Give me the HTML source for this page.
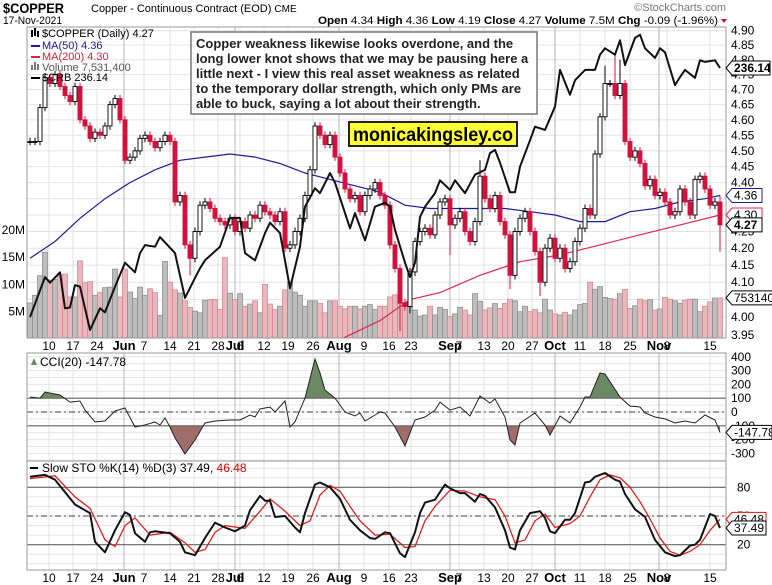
<!DOCTYPE html>
<html><head><meta charset="utf-8"><style>
html,body{margin:0;padding:0;background:#fff;}
svg{display:block;font-family:"Liberation Sans",Arial,sans-serif;}
</style></head><body>
<svg id="chart" width="772" height="585" viewBox="0 0 772 585" xmlns="http://www.w3.org/2000/svg">
<defs>
<clipPath id="mainClip"><rect x="27" y="27" width="699" height="311"/></clipPath>
<clipPath id="cciClip"><rect x="27" y="353" width="699" height="108"/></clipPath>
<clipPath id="stoClip"><rect x="27" y="461" width="699" height="109"/></clipPath>
</defs>
<text x="3" y="13" font-size="14" font-weight="bold" textLength="61" lengthAdjust="spacingAndGlyphs">$COPPER</text>
<text x="91" y="12" font-size="11">Copper - Continuous Contract (EOD) <tspan font-size="10">CME</tspan></text>
<text x="3" y="24" font-size="11" textLength="59" lengthAdjust="spacingAndGlyphs">17-Nov-2021</text>
<text x="726" y="11" font-size="11" fill="#777" text-anchor="end">©StockCharts.com</text>
<text x="318" y="24" font-size="11" textLength="400" lengthAdjust="spacingAndGlyphs"><tspan font-weight="bold">Open</tspan> 4.34 <tspan font-weight="bold">High</tspan> 4.36 <tspan font-weight="bold">Low</tspan> 4.19 <tspan font-weight="bold">Close</tspan> 4.27 <tspan font-weight="bold">Volume</tspan> 7.5M <tspan font-weight="bold">Chg</tspan> -0.09 (-1.96%)</text>
<polygon points="721,19 727,19 724,23" fill="#c0103a"/>
<g id="grid"></g>
<g id="main" clip-path="url(#mainClip)"></g>
<g id="cci" clip-path="url(#cciClip)"></g>
<g id="sto" clip-path="url(#stoClip)"></g>
<g id="frames"></g>
<g id="axes"></g>
<g id="legend" font-size="11">
  <text x="42" y="37">$COPPER (Daily) 4.27</text>
  <rect x="31" y="30" width="2" height="7" fill="#000"/><rect x="34" y="28" width="2" height="8" fill="#000"/><rect x="37" y="31" width="2" height="6" fill="#000"/>
  <rect x="31" y="45" width="9" height="2" fill="#1a1a9a"/><text x="42" y="49" fill="#1a1a9a">MA(50) 4.36</text>
  <rect x="31" y="56" width="9" height="2" fill="#d8203f"/><text x="42" y="60" fill="#d8203f">MA(200) 4.30</text>
  <rect x="31" y="65" width="2" height="5" fill="#777"/><rect x="34" y="62" width="2" height="8" fill="#777"/><rect x="37" y="64" width="2" height="6" fill="#777"/><text x="42" y="71" fill="#555">Volume 7,531,400</text>
  <rect x="31" y="77" width="9" height="2" fill="#000"/><text x="42" y="81">$CRB 236.14</text>
</g>
<g>
  <rect x="191" y="32" width="346" height="82" fill="#fff" stroke="#777" stroke-width="1.5"/>
  <text font-size="13" font-weight="bold" fill="#222">
    <tspan x="196" y="48">Copper weakness likewise looks overdone, and the</tspan>
    <tspan x="196" y="63">long lower knot shows that we may be pausing here a</tspan>
    <tspan x="196" y="78">little next - I view this real asset weakness as related</tspan>
    <tspan x="196" y="93">to the temporary dollar strength, which only PMs are</tspan>
    <tspan x="196" y="108">able to buck, saying a lot about their strength.</tspan>
  </text>
</g>
<g>
  <rect x="349" y="122" width="168" height="24" fill="#ffff33" stroke="#222" stroke-width="2"/>
  <text x="353" y="141" font-size="19" font-weight="bold" textLength="160" lengthAdjust="spacingAndGlyphs">monicakingsley.co</text>
</g>
<g id="cciLegend" font-size="12">
  <polygon points="31,365 34,358 37,365" fill="#6b8a63"/>
  <text x="40" y="366">CCI(20) -147.78</text>
</g>
<g id="stoLegend" font-size="12">
  <rect x="30" y="467" width="8" height="2" fill="#000"/>
  <text x="42" y="472">Slow STO %K(14) %D(3) 37.49, <tspan fill="#e00000">46.48</tspan></text>
</g>
</svg>
<script>
const closes=[4.53,4.53,4.64,4.74,4.72,4.75,4.71,4.68,4.66,4.71,4.60,4.58,4.54,4.56,4.55,4.58,4.65,4.67,4.60,4.47,4.48,4.50,4.54,4.55,4.53,4.51,4.53,4.55,4.53,4.34,4.36,4.21,4.17,4.25,4.33,4.34,4.32,4.29,4.28,4.27,4.29,4.25,4.28,4.26,4.30,4.29,4.33,4.31,4.30,4.28,4.31,4.20,4.21,4.25,4.29,4.36,4.44,4.58,4.55,4.52,4.55,4.48,4.43,4.38,4.35,4.36,4.31,4.36,4.38,4.40,4.36,4.33,4.21,4.14,4.04,4.03,4.13,4.22,4.25,4.26,4.24,4.30,4.34,4.35,4.27,4.29,4.31,4.25,4.22,4.28,4.42,4.35,4.32,4.36,4.28,4.24,4.12,4.25,4.29,4.31,4.25,4.19,4.10,4.20,4.23,4.17,4.20,4.14,4.16,4.22,4.26,4.32,4.30,4.49,4.61,4.72,4.72,4.68,4.72,4.53,4.48,4.50,4.46,4.39,4.41,4.36,4.37,4.34,4.30,4.31,4.38,4.34,4.30,4.41,4.42,4.38,4.33,4.34,4.27];
const firstOpen=4.53;
const highIdx=[115,117,118,138,90];
const highVal=[4.78,4.82,4.80,4.36,4.47];
const lowIdx=[74,76,96,102,138,32,84];
const lowVal=[3.96,4.01,4.08,4.06,4.19,4.12,4.18];
const volumes=[6.6,8,11.6,15.9,10.8,10.9,11.6,11.9,7.7,7.7,14.3,10.3,10.5,8,8.5,9.4,9.5,12.8,7.7,12.8,8.6,7.4,9.5,8,9.2,8.5,4.3,14.2,10.4,9,8.4,7,5.8,5.1,4.8,7.1,7.2,7.2,5.4,14.9,8.4,7.2,8.3,6,6.4,7,4.8,10,6.4,5.4,6,9,10.5,8.6,8,6,7,7,6.5,4.8,7,7,6,5.5,6,6.0,5.5,6.0,
6.3,5.4,6.0,6.0,7.7,8.1,6.5,6.7,5.9,5.3,4.2,4.4,6.0,4.4,5.8,5.4,4.1,4.6,5.8,5.3,4.4,8.3,6.9,5.3,5.7,6.5,5.6,6.5,7.3,7.0,5.0,6.0,5.0,5.4,4.8,7.3,5.3,4.6,4.4,4.9,4.4,5.3,6.3,6.5,10.4,9.1,9.6,7.6,7.4,7.3,8.3,9.1,5.6,6.1,7.3,7.0,7.2,5.3,5.5,7.6,7.3,7.0,6.5,7.1,7.3,7.3,5.0,6.0,6.8,7.5,7.53];
const ma50Idx=[0,5,10,15,20,25,30,35,40,45,50,55,60,65,70,75,80,85,90,95,100,105,110,115,120,125,130,135,138];
const ma50Val=[4.17,4.22,4.29,4.35,4.40,4.44,4.47,4.48,4.49,4.48,4.46,4.43,4.41,4.39,4.37,4.33,4.32,4.32,4.32,4.32,4.31,4.30,4.28,4.28,4.31,4.32,4.34,4.35,4.36];
const ma200Idx=[61,70,76,82,90,98,106,114,122,130,138];
const ma200Val=[3.93,3.99,4.05,4.07,4.12,4.16,4.18,4.21,4.24,4.27,4.30];
const crbIdx=[0,3,4,6,7,8,9,10,12,14,15,17,19,21,22,23,25,26,29,31,33,34,35,38,40,42,43,45,47,48,50,52,54,55,57,58,60,61,63,64,65,67,69,71,72,73,75,76,77,78,79,81,82,84,85,87,89,91,92,93,94,96,97,98,100,101,103,105,106,108,109,111,113,114,115,117,118,119,121,122,123,125,126,127,129,130,131,133,134,135,137,138];
const crbVal=[205.0,210.0,209.3,210.6,206.1,206.2,209.0,208.8,203.4,206.1,205.6,208.8,211.8,210.6,213.0,214.0,213.8,215.0,213.0,207.4,209.9,211.1,212.1,213.8,217.4,217.4,213.0,212.1,215.5,216.8,215.5,208.6,213.8,218.8,221.1,220.5,223.0,221.8,218.0,216.1,218.0,214.6,218.8,219.3,218.8,215.9,211.8,210.0,211.8,217.5,218.8,220.5,222.1,220.9,222.1,220.5,222.8,223.4,225.5,225.9,224.3,220.6,220.6,223.8,227.1,228.8,228.4,231.3,235.9,232.8,234.6,235.9,235.9,237.8,238.6,237.8,239.6,236.5,239.9,240.3,238.6,237.4,238.6,238.1,234.0,235.0,235.9,234.9,237.1,236.9,237.1,236.14];
const cciIdx=[0,2,3,6,8,10,11,13,15,17,19,21,23,25,26,27,28,29,31,33,35,37,40,42,44,45,46,48,49,51,52,53,55,57,58,59,61,63,65,66,67,69,70,71,73,75,77,79,81,82,84,86,88,90,92,93,95,96,97,98,101,103,104,106,108,110,111,112,114,115,118,120,122,123,125,127,129,131,133,135,137,138];
const cciVal=[109,101,145,123,72,80,14,-72,-65,7,29,-109,-94,-72,-94,-43,-109,-188,-304,-203,-80,-65,-58,-58,-22,-36,22,36,0,80,-109,-72,101,384,283,159,101,0,-29,-7,-65,-22,0,-7,-109,-246,-58,-36,14,72,14,36,-29,116,65,94,-36,-203,-239,-80,-7,-94,-167,-29,-80,36,109,109,283,275,109,43,36,-7,-36,-50,-80,-65,-80,-22,-58,-147.78];
const stoKIdx=[0,3,5,7,9,10,12,13,15,17,19,20,21,23,24,25,28,30,31,33,35,37,39,41,43,44,46,47,48,49,51,53,54,55,57,58,60,62,64,66,68,69,71,72,74,75,77,78,79,81,83,84,86,87,89,90,91,93,95,96,97,98,100,102,103,104,105,107,108,109,111,112,113,115,117,118,119,121,123,125,127,129,130,132,133,134,136,137,138];
const stoKVal=[91,93,88,75,62,59,53,23,12,35,54,51,32,23,33,34,32,23,12,9,27,43,38,34,40,56,71,66,66,49,50,38,33,53,83,85,80,68,46,35,27,26,33,32,11,7,33,53,64,67,83,79,74,74,65,73,71,59,35,17,15,35,53,55,48,34,32,46,46,53,85,86,91,95,88,86,73,57,49,25,12,8,9,19,20,25,52,50,37.49];
const stoDIdx=[0,5,9,12,15,17,19,21,24,28,31,33,35,37,39,43,46,48,51,54,56,58,60,62,64,66,69,72,75,77,79,81,84,87,90,93,95,97,99,101,103,105,108,110,112,114,116,118,120,122,124,126,128,130,132,134,136,138];
const stoDVal=[89,92,70,58,25,18,40,48,30,33,22,12,15,33,40,37,55,68,55,40,45,72,82,76,60,45,30,31,17,18,45,60,77,76,70,67,50,22,25,45,52,38,42,50,70,88,93,90,80,65,47,27,13,9,13,20,35,46.48];
const tickLabels=["10","17","24","Jun","7","14","21","28","Jul","6","12","19","26","Aug","9","16","23","Sep","7","13","20","27","Oct","11","18","25","Nov","8","15"];
const tickIdx=[3.8,8.6,13.4,18.8,22.8,28,32.8,37.6,41,42,46.8,51.6,56.6,61.8,66.8,71.8,76.2,84,85.8,90.8,95.6,100.4,105,110,115,120,125.8,127.4,136];
const priceTicks=[4.90,4.85,4.80,4.75,4.70,4.65,4.60,4.55,4.50,4.45,4.40,4.35,4.30,4.25,4.20,4.15,4.10,4.05,4.00,3.95];
const volTicks=[5,10,15,20];
const cciTicks=[400,300,200,100,0,-100,-200,-300];
const stoTicks=[80,50,20];

const NS="http://www.w3.org/2000/svg";
function mk(parent,tag,attrs){const e=document.createElementNS(NS,tag);for(const k in attrs)e.setAttribute(k,attrs[k]);parent.appendChild(e);return e;}
const X=i=>30+i*5;
const yP=p=>30.7+Math.log(4.9/p)*1411;
const yV=v=>339-v*5.46;
const yCRB=v=>68+(236.14-v)*8;
const yCCI=v=>412-v*0.138;
const ySTO=v=>516-(v-50)*0.956;
const L=27,R=726;
const grid=document.getElementById('grid'),main=document.getElementById('main'),cci=document.getElementById('cci'),sto=document.getElementById('sto'),frames=document.getElementById('frames'),axes=document.getElementById('axes');
const monthSet=new Set(["Jun","Jul","Aug","Sep","Oct","Nov"]);

priceTicks.forEach(p=>{const l=mk(grid,'line',{x1:L,x2:R,y1:yP(p),y2:yP(p),stroke:'#e4e4e4'});

});
for(let v=-350;v<=400;v+=50){const l=mk(grid,'line',{x1:L,x2:R,y1:yCCI(v),y2:yCCI(v),stroke:'#e4e4e4'});

}
for(let v=0;v<=100;v+=10){const l=mk(grid,'line',{x1:L,x2:R,y1:ySTO(v),y2:ySTO(v),stroke:'#e4e4e4'});

}
tickIdx.forEach((t,k)=>{const m=monthSet.has(tickLabels[k]);
[[27,338],[353,461],[461,570]].forEach(([a,b])=>{const l=mk(grid,'line',{x1:X(t),x2:X(t),y1:a,y2:b,stroke:m?'#b4b4b4':'#e0e0e0'});

});});

const opens=closes.map((c,i)=>i===0?firstOpen:closes[i-1]);
volumes.forEach((v,i)=>{const down=closes[i]<opens[i];
const r=mk(main,'rect',{x:X(i)-2.5,y:yV(v),width:5,height:339-yV(v),fill:down?'#e8b8bc':'#bdbdbd',stroke:down?'#d48890':'#8e8e8e','stroke-width':0.8});

});

function polyline(g,idx,vals,ys,attrs,name){const pts=idx.map((i,k)=>X(i).toFixed(1)+','+ys(vals[k]).toFixed(1)).join(' ');
const p=mk(g,'polyline',Object.assign({points:pts,fill:'none'},attrs));

return p;}

polyline(main,ma200Idx,ma200Val,yP,{stroke:'#e0284a','stroke-width':1.2},'ma200-line');
polyline(main,ma50Idx,ma50Val,yP,{stroke:'#1c1c9c','stroke-width':1.2},'ma50-line');

closes.forEach((c,i)=>{const o=opens[i];let hi=Math.max(o,c)+0.012,lo=Math.min(o,c)-0.012;
const hk=highIdx.indexOf(i);if(hk>=0)hi=highVal[hk];const lk=lowIdx.indexOf(i);if(lk>=0)lo=lowVal[lk];
const down=c<o;const col=down?'#d4103c':'#000';
const w=mk(main,'line',{x1:X(i),x2:X(i),y1:yP(hi),y2:yP(lo),stroke:col,'stroke-width':1});


const top=yP(Math.max(o,c)),bot=yP(Math.min(o,c));
const b=mk(main,'rect',{x:X(i)-2,y:top,width:4,height:Math.max(1,bot-top),fill:down?'#d4103c':'#fff',stroke:col,'stroke-width':0.9});

});

polyline(main,crbIdx,crbVal,yCRB,{stroke:'#111','stroke-width':2,'stroke-linejoin':'round'},'crb-line');

function fillArea(g,level,above,color,name){const y0=yCCI(level);
const cid='c'+name;const cp=mk(g,'clipPath',{id:cid});
if(above)mk(cp,'rect',{x:L,y:353,width:R-L,height:y0-353});else mk(cp,'rect',{x:L,y:y0,width:R-L,height:461-y0});
let pts=cciIdx.map((i,k)=>X(i)+','+yCCI(cciVal[k])).join(' ');
pts+=' '+X(cciIdx[cciIdx.length-1])+','+y0+' '+X(cciIdx[0])+','+y0;
const p=mk(g,'polygon',{points:pts,fill:color,'clip-path':'url(#'+cid+')'});

}
fillArea(cci,100,true,'#6b8a63','cci-overbought-fill');
fillArea(cci,-100,false,'#a06e6a','cci-oversold-fill');
[[100,'none'],[-100,'none'],[0,'6,3,2,3']].forEach(([v,d])=>{const l=mk(cci,'line',{x1:L,x2:R,y1:yCCI(v),y2:yCCI(v),stroke:'#666','stroke-width':1.2,'stroke-dasharray':d});

});
polyline(cci,cciIdx,cciVal,yCCI,{stroke:'#222','stroke-width':1},'cci-line');

[[80,'none'],[20,'none'],[50,'6,3,2,3']].forEach(([v,d])=>{const l=mk(sto,'line',{x1:L,x2:R,y1:ySTO(v),y2:ySTO(v),stroke:'#666','stroke-width':1.2,'stroke-dasharray':d});

});
polyline(sto,stoDIdx,stoDVal,ySTO,{stroke:'#e81010','stroke-width':1.2},'sto-d-line');
polyline(sto,stoKIdx,stoKVal,ySTO,{stroke:'#111','stroke-width':2,'stroke-linejoin':'round'},'sto-k-line');

[[27,338],[353,461],[461,570]].forEach(([a,b])=>{const r=mk(frames,'rect',{x:L,y:a,width:R-L,height:b-a,fill:'none',stroke:'#999'});

});

function txt(g,x,y,s,attrs,name){const t=mk(g,'text',Object.assign({x:x,y:y,'font-size':12},attrs||{}));t.textContent=s;

return t;}
tickIdx.forEach((t,k)=>{const m=monthSet.has(tickLabels[k]);const a={'text-anchor':'middle'};if(m){a['font-weight']='bold';a['font-size']=13;}
txt(axes,X(t),350,tickLabels[k],a,'date-label-top');txt(axes,X(t),582,tickLabels[k],a,'date-label-bottom');});
priceTicks.forEach(p=>txt(axes,731,yP(p)+4,p.toFixed(2),{},'price-axis-label'));
volTicks.forEach(v=>txt(axes,25,yV(v)+4,v+'M',{'text-anchor':'end'},'volume-axis-label'));
cciTicks.forEach(v=>txt(axes,731,yCCI(v)+4,String(v),{},'cci-axis-label'));
stoTicks.forEach(v=>txt(axes,737,ySTO(v)+4,String(v),{},'sto-axis-label'));

function tag(y,s,color,bold,name,w){const ww=w||44;
const p=mk(axes,'polygon',{points:`726,${y} 732,${y-7} ${732+ww},${y-7} ${732+ww},${y+7} 732,${y+7}`,fill:'#fff',stroke:color,'stroke-width':1});


txt(axes,734,y+4,s,{'font-weight':bold?'bold':'normal'},name);}
tag(yCRB(crbVal[crbVal.length-1]),'236.14','#000',true,'crb-value-tag',38);
tag(yP(ma50Val[ma50Val.length-1]),'4.36','#1c1c9c',false,'ma50-value-tag',30);
tag(yP(ma200Val[ma200Val.length-1]),'4.30','#e0284a',false,'ma200-value-tag',30);
tag(yP(closes[closes.length-1]),'4.27','#000',true,'close-value-tag',30);
tag(yV(volumes[volumes.length-1]),'7531400','#000',false,'volume-value-tag',46);
tag(yCCI(cciVal[cciVal.length-1]),'-147.78','#000',false,'cci-value-tag',40);
tag(ySTO(stoDVal[stoDVal.length-1]),'46.48','#e81010',false,'sto-d-value-tag',34);
tag(ySTO(stoKVal[stoKVal.length-1]),'37.49','#000',false,'sto-k-value-tag',34);
</script>
</body></html>
